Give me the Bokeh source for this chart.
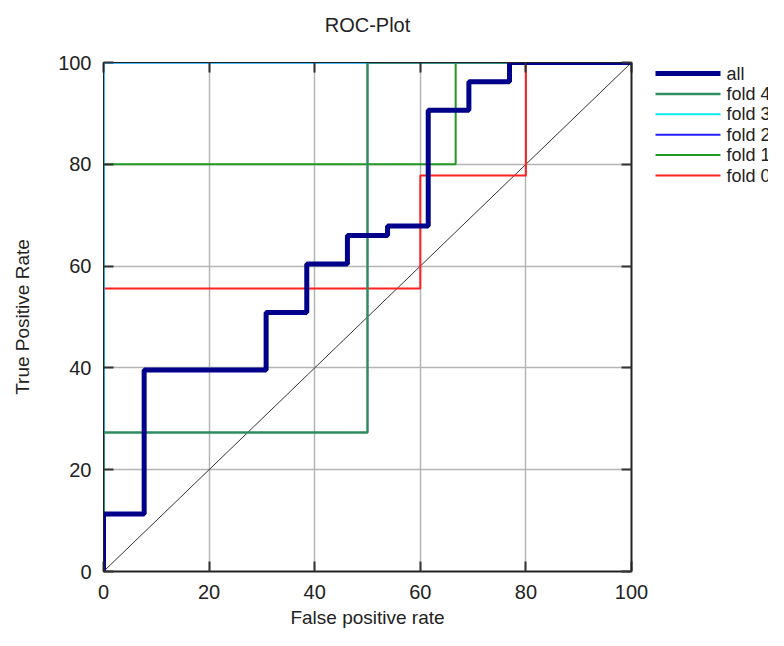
from bokeh.plotting import figure
from bokeh.models import Range1d, LinearAxis, FixedTicker
from bokeh.layouts import row
from bokeh.core.properties import value
from bokeh.embed import file_html
from bokeh.resources import INLINE

# ---- data (percent) ----
all_x = [0, 0, 7.7, 7.7, 30.8, 30.8, 38.5, 38.5, 46.2, 46.2, 53.8, 53.8, 61.5, 61.5, 69.2, 69.2, 76.9, 76.9, 100]
all_y = [0, 11.3, 11.3, 39.6, 39.6, 50.9, 50.9, 60.4, 60.4, 66.0, 66.0, 67.9, 67.9, 90.6, 90.6, 96.2, 96.2, 100, 100]

fold4_x = [0, 0, 50, 50, 100]
fold4_y = [0, 27.3, 27.3, 100, 100]

fold3_x = [0, 0, 100]
fold3_y = [0, 100, 100]

fold2_x = [0, 0, 100]
fold2_y = [0, 100, 100]

fold1_x = [0, 0, 66.7, 66.7, 100]
fold1_y = [0, 80, 80, 100, 100]

fold0_x = [0, 0, 60, 60, 80, 80, 100]
fold0_y = [0, 55.6, 55.6, 77.8, 77.8, 100, 100]

diag_x = [0, 100]
diag_y = [0, 100]

ticks = [0, 20, 40, 60, 80, 100]

legend_labels = ["all", "fold 4", "fold 3", "fold 2", "fold 1", "fold 0"]

COLORS = {"all": "#00008b", "fold 4": "#2e8b62", "fold 3": "#00e8f0",
          "fold 2": "#2020ff", "fold 1": "#229922", "fold 0": "#ff2020"}
WIDTHS = {"all": 5, "fold 4": 2.5, "fold 3": 2, "fold 2": 2, "fold 1": 2, "fold 0": 2}

FONT = "Liberation Sans"

p = figure(output_backend="svg", toolbar_location=None,
           x_range=Range1d(0, 100), y_range=Range1d(0, 100),
           frame_width=528, frame_height=509,
           min_border_left=103, min_border_right=22, min_border_top=62, min_border_bottom=59)

p.outline_line_color = "#222222"
p.outline_line_width = 1

for ax in (p.xaxis[0], p.yaxis[0]):
    ax.ticker = FixedTicker(ticks=ticks)
    ax.major_tick_in = 10
    ax.major_tick_out = 0
    ax.minor_tick_line_color = None
    ax.axis_line_color = "#222222"
    ax.axis_line_width = 2
    ax.major_tick_line_color = "#333333"
    ax.major_tick_line_width = 2
    ax.major_label_text_font = FONT
    ax.major_label_text_font_size = "20px"
    ax.major_label_text_color = "#222222"
    ax.axis_label_text_font = FONT
    ax.axis_label_text_font_size = "19px"
    ax.axis_label_text_font_style = "normal"
    ax.axis_label_text_color = "#222222"

p.yaxis[0].axis_line_width = 1

p.xaxis[0].axis_label = "False positive rate"
p.yaxis[0].axis_label = "True Positive Rate"
p.xaxis[0].major_label_standoff = 13
p.yaxis[0].major_label_standoff = 12
p.xaxis[0].axis_label_standoff = 5
p.yaxis[0].axis_label_standoff = 22

for side in ("right", "above"):
    ax = LinearAxis(ticker=FixedTicker(ticks=ticks))
    ax.major_tick_in = 10
    ax.major_tick_out = 0
    ax.minor_tick_line_color = None
    ax.axis_line_color = "#222222"
    ax.axis_line_width = 2
    ax.major_tick_line_color = "#333333"
    ax.major_tick_line_width = 2
    ax.major_label_text_color = None
    ax.major_label_text_font_size = "1px"
    ax.major_label_standoff = 0
    p.add_layout(ax, side)

# the chart title is carried by the top axis label
top = p.above[0]
top.axis_line_width = 1
top.axis_label = "ROC-Plot"
top.axis_label_text_font = FONT
top.axis_label_text_font_size = "20px"
top.axis_label_text_font_style = "normal"
top.axis_label_text_color = "#222222"
top.axis_label_standoff = 27

for g in (p.xgrid[0], p.ygrid[0]):
    g.ticker = FixedTicker(ticks=ticks)
    g.grid_line_color = "#b4b4b4"
    g.grid_line_width = 1.5

p.line(diag_x, diag_y, line_color="#333333", line_width=1)
p.line(fold0_x, fold0_y, line_color=COLORS["fold 0"], line_width=WIDTHS["fold 0"])
p.line(fold1_x, fold1_y, line_color=COLORS["fold 1"], line_width=WIDTHS["fold 1"])
p.line(fold2_x, fold2_y, line_color=COLORS["fold 2"], line_width=WIDTHS["fold 2"])
p.line(fold3_x, fold3_y, line_color=COLORS["fold 3"], line_width=WIDTHS["fold 3"])
p.line(fold4_x, fold4_y, line_color=COLORS["fold 4"], line_width=WIDTHS["fold 4"])
p.line(all_x, all_y, line_color=COLORS["all"], line_width=WIDTHS["all"])

# ---- legend panel (separate small figure; its frame is aligned with the main frame) ----
LEG_W, LEG_H = 115, 630
lg = figure(output_backend="svg", toolbar_location=None, width=LEG_W, height=LEG_H,
            x_range=Range1d(0, LEG_W), y_range=Range1d(571, 62),
            x_axis_location=None, y_axis_location=None,
            min_border=0, outline_line_color=None)
lg.grid.visible = False

row0, row_h = 73, 20.4
ys = [row0 + i * row_h for i in range(len(legend_labels))]
lg.segment(x0=[2] * len(ys), y0=ys, x1=[67] * len(ys), y1=ys,
           line_color=[COLORS[k] for k in legend_labels],
           line_width=[WIDTHS[k] for k in legend_labels])
lg.text(x=[73] * len(ys), y=ys, text=legend_labels,
        text_font=value(FONT), text_font_size="18px", text_color="#222222",
        text_baseline="middle", text_align="left")

layout = row(p, lg)
open("out.html", "w").write(file_html(layout, INLINE))
